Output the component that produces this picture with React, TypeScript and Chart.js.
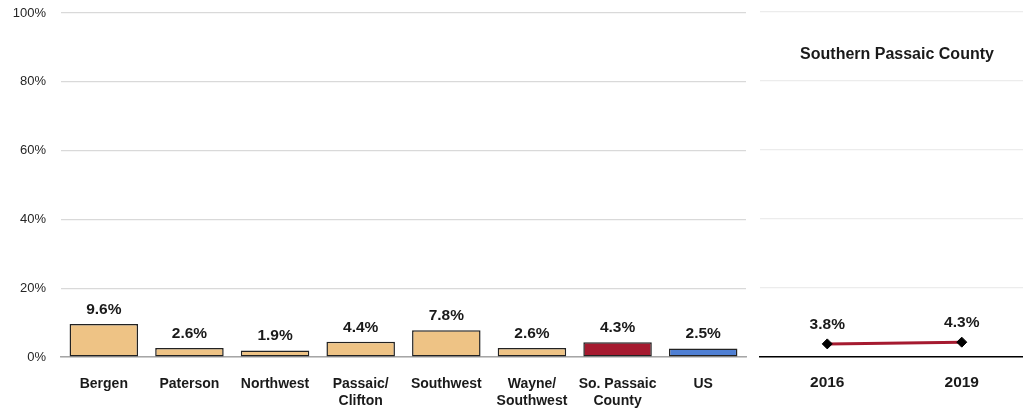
import React, { useEffect, useRef } from "react";
import { Chart, registerables } from "chart.js";

Chart.register(...registerables);

const regions: (string | string[])[] = [
  "Bergen",
  "Paterson",
  "Northwest",
  ["Passaic/", "Clifton"],
  "Southwest",
  ["Wayne/", "Southwest"],
  ["So. Passaic", "County"],
  "US",
];
const regionValues: number[] = [9.6, 2.6, 1.9, 4.4, 7.8, 2.6, 4.3, 2.5];
const regionColors: string[] = [
  "#EEC385",
  "#EEC385",
  "#EEC385",
  "#EEC385",
  "#EEC385",
  "#EEC385",
  "#A51A2F",
  "#4F7FD3",
];
const years: string[] = ["2016", "2019"];
const trendValues: number[] = [3.8, 4.3];
const yTicks: number[] = [0, 20, 40, 60, 80, 100];
const trendTitle = "Southern Passaic County";

const SANS = "'Liberation Sans', Arial, sans-serif";

const barLabelPlugin = {
  id: "barLabels",
  afterDatasetsDraw(chart: any) {
    const ctx = chart.ctx;
    const meta = chart.getDatasetMeta(0);
    ctx.save();
    ctx.font = `bold 15.5px ${SANS}`;
    ctx.fillStyle = "#1a1a1a";
    ctx.textAlign = "center";
    ctx.textBaseline = "alphabetic";
    meta.data.forEach((el: any, i: number) => {
      const v = chart.data.datasets[0].data[i];
      ctx.fillText(v.toFixed(1) + "%", el.x, el.y - 10);
    });
    ctx.restore();
  },
};

const lineLabelPlugin = {
  id: "lineLabels",
  afterDatasetsDraw(chart: any) {
    const ctx = chart.ctx;
    const meta = chart.getDatasetMeta(0);
    ctx.save();
    ctx.font = `bold 15.5px ${SANS}`;
    ctx.fillStyle = "#1a1a1a";
    ctx.textAlign = "center";
    ctx.textBaseline = "alphabetic";
    meta.data.forEach((el: any, i: number) => {
      const v = chart.data.datasets[0].data[i];
      ctx.fillText(v.toFixed(1) + "%", el.x, el.y - 15);
    });
    ctx.font = `bold 16px ${SANS}`;
    ctx.textBaseline = "middle";
    ctx.fillText(trendTitle, 147, 55);
    ctx.restore();
  },
};

export default function App() {
  const leftRef = useRef<HTMLCanvasElement>(null);
  const rightRef = useRef<HTMLCanvasElement>(null);

  useEffect(() => {
    document.body.style.margin = "0";
    const left = new Chart(leftRef.current!, {
      type: "bar",
      data: {
        labels: regions,
        datasets: [
          {
            data: regionValues,
            backgroundColor: regionColors,
            borderColor: "#222222",
            borderWidth: 1.5,
            borderSkipped: false,
            categoryPercentage: 0.8,
            barPercentage: 1,
          },
        ],
      },
      options: {
        responsive: false,
        animation: false,
        layout: { padding: { top: 13, right: 4, left: 0, bottom: 0 } },
        plugins: { legend: { display: false }, tooltip: { enabled: false } },
        scales: {
          x: {
            grid: { display: false },
            border: { display: true, color: "#a6a6a6", width: 1.5 },
            ticks: {
              font: { family: SANS, size: 14, weight: "bold", lineHeight: 1.25 },
              color: "#1a1a1a",
              padding: 10,
              maxRotation: 0,
              autoSkip: false,
            },
            afterFit: (s: any) => {
              s.height = 53;
              s.paddingLeft = 0;
              s.paddingRight = 0;
            },
          },
          y: {
            min: 0,
            max: 100,
            afterBuildTicks: (s: any) => {
              s.ticks = yTicks.map((v) => ({ value: v }));
            },
            grid: { color: "#d9d9d9", lineWidth: 1.2, drawTicks: false },
            border: { display: false },
            ticks: {
              font: { family: SANS, size: 13 },
              color: "#262626",
              padding: 15,
              callback: (v: any) => v + "%",
            },
            afterFit: (s: any) => {
              s.width = 61;
              s.paddingTop = 0;
              s.paddingBottom = 0;
            },
          },
        },
      },
      plugins: [barLabelPlugin],
    });

    const right = new Chart(rightRef.current!, {
      type: "line",
      data: {
        labels: years,
        datasets: [
          {
            data: trendValues,
            borderColor: "#A51A2F",
            borderWidth: 3,
            pointStyle: "rectRot",
            pointRadius: 5,
            pointBackgroundColor: "#000000",
            pointBorderColor: "#000000",
            pointBorderWidth: 1,
          },
        ],
      },
      options: {
        responsive: false,
        animation: false,
        layout: { padding: { top: 12, right: 0, left: 0, bottom: 0 } },
        plugins: { legend: { display: false }, tooltip: { enabled: false } },
        scales: {
          x: {
            offset: true,
            grid: { display: false },
            border: { display: true, color: "#000000", width: 1.5 },
            ticks: {
              font: { family: SANS, size: 15.5, weight: "bold" },
              color: "#1a1a1a",
              padding: 8,
              maxRotation: 0,
            },
            afterFit: (s: any) => {
              s.height = 53;
              s.paddingLeft = 0;
              s.paddingRight = 0;
            },
          },
          y: {
            min: 0,
            max: 100,
            afterBuildTicks: (s: any) => {
              s.ticks = yTicks.map((v) => ({ value: v }));
            },
            grid: { color: "#ececec", lineWidth: 1.2, drawTicks: false },
            border: { display: false },
            ticks: { display: false },
            afterFit: (s: any) => {
              s.width = 10;
              s.paddingTop = 0;
              s.paddingBottom = 0;
            },
          },
        },
      },
      plugins: [lineLabelPlugin],
    });

    return () => {
      left.destroy();
      right.destroy();
    };
  }, []);

  return (
    <div
      style={{
        position: "fixed",
        left: 0,
        top: 0,
        width: 1023,
        height: 410,
        overflow: "hidden",
        background: "#ffffff",
      }}
    >
      <canvas
        ref={leftRef}
        width={750}
        height={410}
        style={{ position: "absolute", left: 0, top: 0 }}
      />
      <canvas
        ref={rightRef}
        width={285}
        height={410}
        style={{ position: "absolute", left: 750, top: 0 }}
      />
    </div>
  );
}
